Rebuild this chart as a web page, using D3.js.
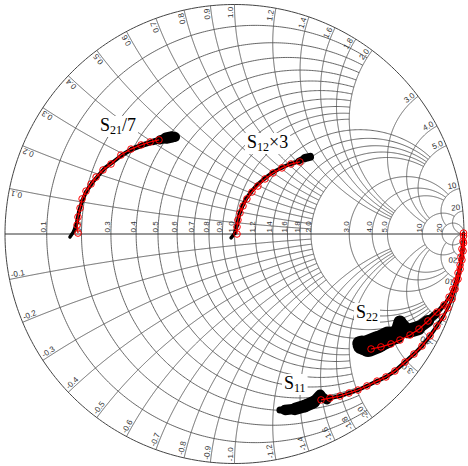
<!DOCTYPE html>
<html><head><meta charset="utf-8">
<script src="https://cdn.jsdelivr.net/npm/d3@7"></script>
<style>body{margin:0;background:#fff}svg{display:block}</style>
</head><body>
<svg id="c" width="468" height="466"></svg>
<script>
// ---------- grid values ----------
const resistanceValues = [0.1,0.2,0.3,0.4,0.5,0.6,0.7,0.8,0.9,1.0,1.2,1.4,1.6,1.8,2.0,3.0,4.0,5.0,10,20];
const resistanceLabels = ["0.1","0.2","0.3","0.4","0.5","0.6","0.7","0.8","0.9","1.0","1.2","1.4","1.6","1.8","2.0","3.0","4.0","5.0","10","20"];
const reactanceValues = [0.1,0.2,0.3,0.4,0.5,0.6,0.7,0.8,0.9,1.0,1.2,1.4,1.6,1.8,2.0,3.0,4.0,5.0,10,20];
const reactanceLabelsPos = ["0.1","0.2","0.3","0.4","0.5","0.6","0.7","0.8","0.9","1.0","1.2","1.4","1.6","1.8","2.0","3.0","4.0","5.0","10","20"];
const reactanceLabelsNeg = ["-0.1","-0.2","-0.3","-0.4","-0.5","-0.6","-0.7","-0.8","-0.9","-1.0","-1.2","-1.4","-1.6","-1.8","-2.0","-3.0","-4.0","-5.0","-10","-20"];
// grid line of value <= maxValue is drawn up to the given limit of the other family
const gridBandMax   = [1.0, 2.0, 5.0, 10, 20];
const gridBandLimit = [2, 5, 10, 20, Infinity];

// ---------- trace values (reflection coefficient, re / im) ----------
const s21SimRe = [-0.682,-0.686,-0.682,-0.673,-0.664,-0.647,-0.625,-0.603,-0.573,-0.538,-0.495,-0.451,-0.407,-0.368,-0.329];
const s21SimIm = [0.004,0.039,0.074,0.113,0.153,0.187,0.218,0.248,0.279,0.305,0.344,0.370,0.388,0.401,0.410];
const s21MeasRe = [-0.717,-0.699,-0.686,-0.678,-0.664,-0.647,-0.621,-0.595,-0.564,-0.529,-0.490,-0.447,-0.399,-0.355,-0.325,-0.298,-0.272,-0.259];
const s21MeasIm = [-0.013,0.013,0.052,0.096,0.144,0.183,0.222,0.253,0.288,0.314,0.344,0.370,0.388,0.401,0.410,0.418,0.423,0.423];
const s21MeasSpread = [0.013,0.017,0.017,0.017,0.017,0.017,0.017,0.017,0.017,0.017,0.017,0.022,0.022,0.026,0.031,0.048,0.052,0.035];

const s12SimRe = [0.011,0.011,0.015,0.024,0.037,0.054,0.076,0.102,0.133,0.168,0.207,0.246,0.285];
const s12SimIm = [0.000,0.031,0.061,0.092,0.122,0.153,0.183,0.209,0.240,0.266,0.288,0.305,0.314];
const s12MeasRe = [-0.015,0.002,0.011,0.020,0.033,0.050,0.072,0.098,0.129,0.163,0.203,0.242,0.281,0.307,0.329];
const s12MeasIm = [-0.017,0.004,0.039,0.083,0.118,0.153,0.183,0.214,0.240,0.266,0.288,0.305,0.318,0.331,0.336];
const s12MeasSpread = [0.013,0.017,0.017,0.017,0.017,0.017,0.017,0.017,0.017,0.017,0.017,0.017,0.022,0.035,0.035];

const s22SimRe = [0.998,0.996,0.991,0.987,0.983,0.974,0.965,0.952,0.935,0.913,0.882,0.843,0.804,0.765,0.721,0.682,0.638,0.595];
const s22SimIm = [0.004,-0.031,-0.065,-0.100,-0.135,-0.170,-0.205,-0.240,-0.275,-0.309,-0.340,-0.379,-0.414,-0.440,-0.462,-0.479,-0.492,-0.501];
const s22MeasRe = [0.998,0.996,0.991,0.987,0.983,0.974,0.965,0.952,0.935,0.913,0.878,0.843,0.800,0.756,0.721,0.704,0.669,0.625,0.582,0.556,0.542];
const s22MeasIm = [0.004,-0.031,-0.065,-0.100,-0.135,-0.170,-0.205,-0.240,-0.275,-0.309,-0.349,-0.379,-0.410,-0.423,-0.384,-0.440,-0.449,-0.471,-0.488,-0.484,-0.475];
const s22MeasSpread = [0.013,0.013,0.013,0.013,0.013,0.013,0.013,0.013,0.013,0.017,0.026,0.044,0.061,0.065,0.044,0.070,0.087,0.096,0.096,0.070,0.044];

const s11SimRe = [0.998,0.998,0.996,0.991,0.983,0.974,0.961,0.948,0.930,0.908,0.882,0.852,0.817,0.782,0.743,0.699,0.660,0.621,0.577,0.538,0.499,0.460,0.416,0.377];
const s11SimIm = [-0.009,-0.039,-0.074,-0.113,-0.153,-0.196,-0.240,-0.283,-0.322,-0.362,-0.401,-0.444,-0.488,-0.523,-0.558,-0.597,-0.623,-0.641,-0.662,-0.680,-0.693,-0.706,-0.715,-0.723];
const s11MeasRe = [0.998,0.998,0.996,0.991,0.983,0.974,0.961,0.948,0.930,0.908,0.882,0.852,0.817,0.782,0.743,0.699,0.660,0.621,0.577,0.538,0.499,0.460,0.416,0.403,0.373,0.346,0.307,0.264,0.220,0.198];
const s11MeasIm = [-0.009,-0.039,-0.074,-0.113,-0.153,-0.196,-0.240,-0.283,-0.322,-0.362,-0.401,-0.444,-0.488,-0.523,-0.558,-0.597,-0.623,-0.641,-0.662,-0.680,-0.693,-0.706,-0.715,-0.723,-0.702,-0.732,-0.749,-0.762,-0.767,-0.767];
const s11MeasSpread = [0.013,0.013,0.013,0.013,0.013,0.013,0.013,0.013,0.013,0.013,0.017,0.017,0.017,0.017,0.017,0.017,0.017,0.017,0.017,0.017,0.017,0.017,0.017,0.035,0.044,0.052,0.057,0.052,0.039,0.022];

const traceNames = ["S","S","S","S"];
const traceSubs = ["21","12","22","11"];
const traceSuffix = ["/7","\u00d73","",""];

// ---------- layout ----------
const W = 468, H = 466;
const cx = 234.5, cy = 234, R = 229.5;
const labelAnchors = [[100,131],[247,148],[356,318],[284,389]];

const svg = d3.select("#c");
const gx = d3.scaleLinear().domain([-1,1]).range([cx-R, cx+R]);
const gy = d3.scaleLinear().domain([-1,1]).range([cy+R, cy-R]);
const unit = v => gx(v) - gx(0);
const line = d3.line().x(d=>gx(d[0])).y(d=>gy(d[1]));

function gamma(r,x){ const a=r+1, den=a*a+x*x; return [(r*r+x*x-1)/den, 2*x/den]; }
function limitFor(v){ for(let i=0;i<gridBandMax.length;i++) if(v<=gridBandMax[i]+1e-9) return gridBandLimit[i]; return Infinity; }

function rCircle(r, X){
  const c=r/(1+r), rho=1/(1+r);
  let phi=0;
  if(isFinite(X)){ const g=gamma(r,X); phi=Math.atan2(g[1], g[0]-c); }
  const pts=[], N=400;
  for(let i=0;i<=N;i++){ const a=phi+(2*Math.PI-2*phi)*i/N; pts.push([c+rho*Math.cos(a), rho*Math.sin(a)]); }
  return pts;
}
function xArc(x, Rm){
  const ax=Math.abs(x), s=Math.sign(x), k=1/ax;
  const g0=gamma(0,ax), g1=isFinite(Rm)?gamma(Rm,ax):[1,0];
  let a0=Math.atan2(g0[1]-k, g0[0]-1), a1=Math.atan2(g1[1]-k, g1[0]-1);
  if(a1<a0) a1+=2*Math.PI;
  const pts=[], N=400;
  for(let i=0;i<=N;i++){ const a=a0+(a1-a0)*i/N; pts.push([1+k*Math.cos(a), s*(k+k*Math.sin(a))]); }
  return pts;
}

// ---------- grid ----------
const grid = svg.append("g").attr("fill","none").attr("stroke","#555").attr("stroke-width",0.9);
resistanceValues.forEach(r=>{ grid.append("path").attr("d", line(rCircle(r, limitFor(r)))); });
reactanceValues.forEach(x=>{
  grid.append("path").attr("d", line(xArc(x, limitFor(x))));
  grid.append("path").attr("d", line(xArc(-x, limitFor(x))));
});
grid.append("path").attr("d", line(rCircle(0, Infinity))).attr("stroke","#444").attr("stroke-width",1);
grid.append("line").attr("x1",gx(-1)).attr("x2",gx(1)).attr("y1",gy(0)).attr("y2",gy(0)).attr("stroke","#333").attr("stroke-width",1);

// ---------- grid labels ----------
const lab = svg.append("g").attr("font-family","Liberation Sans, Arial, sans-serif").attr("font-size",8).attr("fill","#333");
resistanceValues.forEach((r,i)=>{
  const g=gamma(r,0);
  lab.append("text").attr("transform",`translate(${gx(g[0])-0.5},${gy(0)-1.5}) rotate(-90)`)
    .attr("text-anchor","start").text(resistanceLabels[i]);
});
reactanceValues.forEach((x,i)=>{
  const g=gamma(0,x);
  const th=Math.atan2(g[1],g[0]);
  const px=gx(Math.cos(th)*0.99), py=gy(Math.sin(th)*0.99);
  lab.append("text").attr("transform",`translate(${px},${py}) rotate(${-th*180/Math.PI})`)
    .attr("text-anchor","end").attr("dy",-1.5).text(reactanceLabelsPos[i]);
  const px2=gx(Math.cos(-th)*0.99), py2=gy(Math.sin(-th)*0.99);
  lab.append("text").attr("transform",`translate(${px2},${py2}) rotate(${180+th*180/Math.PI})`)
    .attr("text-anchor","start").attr("dy",-1.5).text(reactanceLabelsNeg[i]);
});

// ---------- trace labels ----------
const tl = svg.append("g");
traceSubs.forEach((s,i)=>{
  const g = tl.append("g");
  const t = g.append("text").attr("x",labelAnchors[i][0]).attr("y",labelAnchors[i][1])
    .attr("font-family","Liberation Serif, Times New Roman, serif").attr("font-size",18).attr("fill","#000");
  t.append("tspan").text(traceNames[i]);
  t.append("tspan").attr("font-size",12).attr("dy",3).text(s);
  if(traceSuffix[i]) t.append("tspan").attr("dy",-3).text(traceSuffix[i]);
  const bb=t.node().getBBox();
  g.insert("rect","text").attr("x",bb.x-2).attr("y",bb.y+1).attr("width",bb.width+4).attr("height",bb.height-1).attr("fill","#fff");
});

// ---------- traces ----------
const meas = [[s21MeasRe,s21MeasIm,s21MeasSpread],[s12MeasRe,s12MeasIm,s12MeasSpread],[s22MeasRe,s22MeasIm,s22MeasSpread],[s11MeasRe,s11MeasIm,s11MeasSpread]];
const sims = [[s21SimRe,s21SimIm],[s12SimRe,s12SimIm],[s22SimRe,s22SimIm],[s11SimRe,s11SimIm]];
const mg = svg.append("g").attr("stroke","#000").attr("stroke-linecap","round").attr("fill","none");
meas.forEach(([re,im,sp])=>{
  for(let i=0;i<re.length-1;i++){
    mg.append("line").attr("x1",gx(re[i])).attr("y1",gy(im[i])).attr("x2",gx(re[i+1])).attr("y2",gy(im[i+1]))
      .attr("stroke-width", unit((sp[i]+sp[i+1])/2));
  }
});
const sg = svg.append("g");
sims.forEach(([re,im])=>{
  const pts = re.map((v,i)=>[v,im[i]]);
  sg.append("path").attr("d",line(pts)).attr("fill","none").attr("stroke","#ff0000").attr("stroke-width",1.2);
  sg.selectAll(null).data(pts).enter().append("circle")
    .attr("cx",d=>gx(d[0])).attr("cy",d=>gy(d[1])).attr("r",3.3)
    .attr("fill","none").attr("stroke","#ff0000").attr("stroke-width",1);
});
</script>
</body></html>
